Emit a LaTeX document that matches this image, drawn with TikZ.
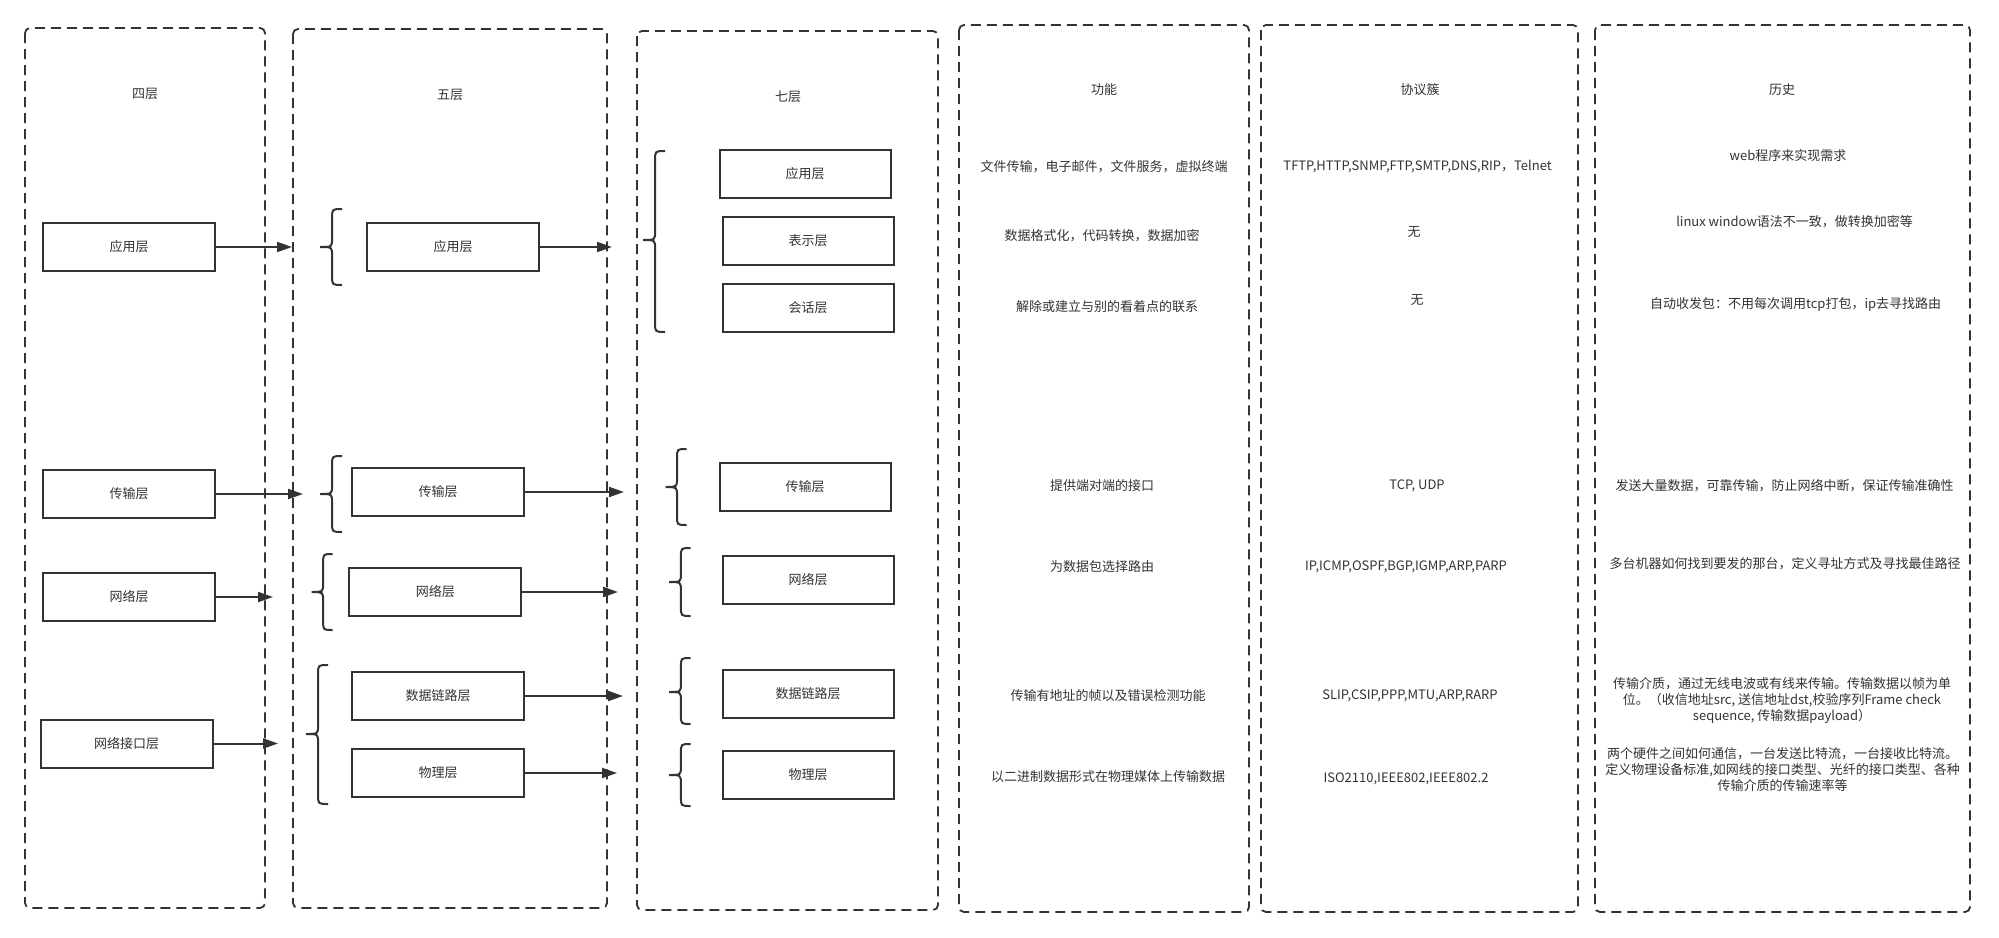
\documentclass[tikz,border=0pt]{standalone}
\usepackage{fontspec}
\setmainfont{Noto Sans CJK SC}
\usetikzlibrary{arrows.meta}
\definecolor{ink}{HTML}{333333}
\newcommand{\drawbrace}[5]{%
  \pgfmathsetmacro{\bxs}{#1+0.55*(#2-#1)}%
  \draw[brace] (#2,#3) .. controls (\bxs,#3) .. (\bxs,#3+9)
    -- (\bxs,#4-9) .. controls (\bxs,#4) .. (#1,#4)
    .. controls (\bxs,#4) .. (\bxs,#4+9)
    -- (\bxs,#5-9) .. controls (\bxs,#5) .. (#2,#5);}
\begin{document}
\begin{tikzpicture}[x=1pt,y=-1pt,
  col/.style={draw=ink, line width=1.8pt, dash pattern=on 10pt off 6pt, rounded corners=5pt},
  layer/.style={draw=ink, line width=2pt, minimum width=172pt, minimum height=48pt, inner sep=0pt, font=\fontsize{13pt}{16pt}\selectfont, text=ink},
  txt/.style={font=\fontsize{13pt}{16pt}\selectfont, text=ink, inner sep=0pt, align=center},
  conn/.style={draw=ink, line width=2pt, -{Triangle[length=15pt,width=10pt]}},
  brace/.style={draw=ink, line width=2pt}
]
\fill[white] (0,0) rectangle (1999,937);
\useasboundingbox (0,0) rectangle (1999,937);

% columns
\draw[col] (25,28) rectangle (265,908);
\draw[col] (293,29) rectangle (607,908);
\draw[col] (637,31) rectangle (938,910);
\draw[col] (959,25) rectangle (1249,912);
\draw[col] (1261,25) rectangle (1578,912);
\draw[col] (1595,25) rectangle (1970,912);

% titles
\node[txt] (h4) at (145,94) {四层};
\node[txt] (h5) at (450,95) {五层};
\node[txt] (h7) at (788,97) {七层};
\node[txt] (hf) at (1104,90) {功能};
\node[txt] (hp) at (1420,90) {协议簇};
\node[txt] (hh) at (1782,90) {历史};

% four-layer model
\node[layer] (a4) at (129,247) {应用层};
\node[layer] (t4) at (129,494) {传输层};
\node[layer] (n4) at (129,597) {网络层};
\node[layer] (l4) at (126.5,743.5) {网络接口层};

% five-layer model
\node[layer] (a5) at (453,247) {应用层};
\node[layer] (t5) at (438,492) {传输层};
\node[layer] (n5) at (435.3,592) {网络层};
\node[layer] (d5) at (438,696) {数据链路层};
\node[layer] (p5) at (438,773) {物理层};

% seven-layer model
\node[layer, minimum width=171pt] (a7) at (805,174) {应用层};
\node[layer, minimum width=171pt] (r7) at (808,241) {表示层};
\node[layer, minimum width=171pt] (s7) at (808,308) {会话层};
\node[layer, minimum width=171pt] (t7) at (805,487) {传输层};
\node[layer, minimum width=171pt] (n7) at (808,580) {网络层};
\node[layer, minimum width=171pt] (d7) at (808,694) {数据链路层};
\node[layer, minimum width=171pt] (p7) at (808,775) {物理层};

% arrow ends
\coordinate (ea4) at (292,247);
\coordinate (et4) at (303,494);
\coordinate (en4) at (273,597);
\coordinate (el4) at (278,743.5);
\coordinate (ea5) at (612,247);
\coordinate (et5) at (624,492);
\coordinate (en5) at (618,592);
\coordinate (ed5) at (623,696);
\coordinate (ep5) at (617,773);

\draw[conn] (a4.east) -- (ea4);
\draw[conn] (t4.east) -- (et4);
\draw[conn] (n4.east) -- (en4);
\draw[conn] (l4.east) -- (el4);
\draw[conn] (a5.east) -- (ea5);
\draw[conn] (t5.east) -- (et5);
\draw[conn] (n5.east) -- (en5);
\draw[conn] (d5.east) -- (ed5);
\draw[conn] (p5.east) -- (ep5);

% braces
\drawbrace{320}{342}{209}{247}{285}
\drawbrace{320}{342}{456}{494}{532}
\drawbrace{311.6}{332.6}{554}{592}{630}
\drawbrace{306}{328}{665}{734}{804}
\drawbrace{643}{665}{151}{240}{332}
\drawbrace{665.5}{686.5}{449}{487}{525}
\drawbrace{669}{690.7}{548}{582}{616}
\drawbrace{669}{690.7}{658}{692}{724}
\drawbrace{669}{690.7}{744}{775}{806}

% functions
\node[txt] (f1) at (1104,167) {文件传输，电子邮件，文件服务，虚拟终端};
\node[txt] (f2) at (1102,236) {数据格式化，代码转换，数据加密};
\node[txt] (f3) at (1107,307) {解除或建立与别的看着点的联系};
\node[txt] (f4) at (1102,486) {提供端对端的接口};
\node[txt] (f5) at (1102,567) {为数据包选择路由};
\node[txt] (f6) at (1108,696) {传输有地址的帧以及错误检测功能};
\node[txt] (f7) at (1108,777) {以二进制数据形式在物理媒体上传输数据};

% protocols
\node[txt] (q1) at (1417.6,167) {TFTP,HTTP,SNMP,FTP,SMTP,DNS,RIP，Telnet};
\node[txt] (q2) at (1414,232) {无};
\node[txt] (q3) at (1417,300) {无};
\node[txt] (q4) at (1417,486) {TCP, UDP};
\node[txt] (q5) at (1406,567) {IP,ICMP,OSPF,BGP,IGMP,ARP,PARP};
\node[txt] (q6) at (1410,696) {SLIP,CSIP,PPP,MTU,ARP,RARP};
\node[txt] (q7) at (1406,779) {ISO2110,IEEE802,IEEE802.2};

% history
\node[txt] (g1) at (1788,156) {web程序来实现需求};
\node[txt] (g2) at (1794.6,222) {linux window语法不一致，做转换加密等};
\node[txt] (g3) at (1795.6,304) {自动收发包：不用每次调用tcp打包，ip去寻找路由};
\node[txt] (g4) at (1784.7,486) {发送大量数据，可靠传输，防止网络中断，保证传输准确性};
\node[txt] (g5) at (1785,564) {多台机器如何找到要发的那台，定义寻址方式及寻找最佳路径};
\node[txt] (g6) at (1782,701) {传输介质，通过无线电波或有线来传输。传输数据以帧为单\\位。（收信地址src, 送信地址dst,校验序列Frame check\\sequence, 传输数据payload）};
\node[txt] (g7) at (1782.6,770) {两个硬件之间如何通信，一台发送比特流，一台接收比特流。\\定义物理设备标准,如网线的接口类型、光纤的接口类型、各种\\传输介质的传输速率等};
\end{tikzpicture}
\end{document}
